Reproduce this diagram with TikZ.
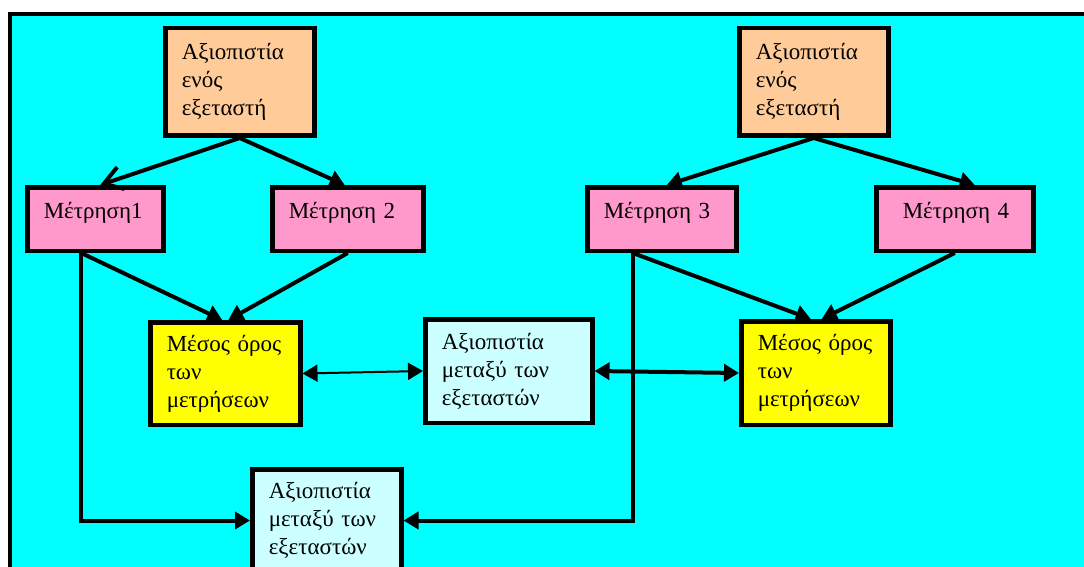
\documentclass[tikz,border=0pt]{standalone}
\usepackage{fontspec}
\setmainfont{Liberation Serif}
\usepackage{tikz}
\usetikzlibrary{arrows.meta,calc,positioning}
\definecolor{fondo}{RGB}{0,255,255}
\definecolor{naranjaClaro}{RGB}{255,204,153}
\definecolor{rosa}{RGB}{255,153,204}
\definecolor{amarillo}{RGB}{255,255,0}
\definecolor{celeste}{RGB}{204,255,255}
\tikzstyle{box}   =[draw, line width=4.5pt, anchor=north west, align=left,
                    inner xsep=16.5pt, inner ysep=0pt,
                    font=\fontsize{23}{28}\selectfont]
\tikzstyle{meas}  =[box, fill=rosa, minimum height=63.5pt,
                    text height=20pt, text depth=22pt]
\tikzstyle{edge}  =[line width=4pt, -{Triangle[length=15pt,width=17pt]}]
\tikzstyle{twoway}=[edge, {Triangle[length=15pt,width=17pt]}-{Triangle[length=15pt,width=17pt]}]

\begin{document}
\begin{tikzpicture}[x=1pt,y=-1pt]
    \useasboundingbox (0,0) rectangle (1084,567);
    \clip (0,0) rectangle (1084,567);
    \draw[line width=4.5pt,fill=fondo] (10,14) rectangle (1120,620);

        % first examiner
        \draw (163,26) node (o1) [box,fill=naranjaClaro,text width=116pt,minimum height=107.5pt] {Αξιοπιστία\\ενός\\εξεταστή};
        \draw (25,185) node (m1) [meas,text width=103pt] {Μέτρηση1};
        \draw (270,185) node (m2) [meas,text width=118pt] {Μέτρηση~2};
        \draw (148,320) node (y1) [box,fill=amarillo,text width=117pt,minimum height=102.5pt] {Μέσος όρος\\των\\μετρήσεων};

        % second examiner
        \draw (737,26) node (o2) [box,fill=naranjaClaro,text width=116pt,minimum height=107.5pt] {Αξιοπιστία\\ενός\\εξεταστή};
        \draw (585,185) node (m3) [meas,text width=116pt] {Μέτρηση~3};
        \draw (874,185) node (m4) [meas,inner xsep=26.5pt,text width=104pt] {Μέτρηση~4};
        \draw (739,319) node (y2) [box,fill=amarillo,text width=116pt,minimum height=103.5pt] {Μέσος όρος\\των\\μετρήσεων};

        % between examiners
        \draw (423,317) node (mid) [box,fill=celeste,text width=134pt,minimum height=103.5pt] {Αξιοπιστία\\μεταξύ των\\εξεταστών};
        \draw (250,467) node (bot) [box,fill=celeste,text width=116pt,minimum height=102.5pt] {Αξιοπιστία\\μεταξύ των\\εξεταστών};

        % arrow ends
        \coordinate (m1t) at ([xshift=5pt]m1.north);
        \coordinate (m2t) at ([xshift=-3pt]m2.north);
        \coordinate (m3t) at ([xshift=5pt]m3.north);
        \coordinate (m4t) at ([xshift=20pt]m4.north);
        \coordinate (m1b) at ([xshift=-14pt]m1.south);
        \coordinate (m3b) at ([xshift=-29pt]m3.south);
        \coordinate (y1l) at ([xshift=-3pt]y1.north);
        \coordinate (y1r) at ([xshift=3pt]y1.north);
        \coordinate (y2l) at ([xshift=-5pt]y2.north);
        \coordinate (y2r) at ([xshift=6pt]y2.north);

        \draw [line width=4pt,-{Straight Barb[length=18pt,width=23pt]}] (o1.south) to (m1t);
        \foreach \i/\j in {o1.south/m2t,o2.south/m3t,o2.south/m4t,m1b/y1l,m2.south/y1r,m3b/y2l,m4.south/y2r}
            \draw [edge] (\i) to (\j);

        \draw [edge] (m1b) |- (bot.west);
        \draw [edge] (m3b) |- (bot.east);
        \draw [twoway,line width=2pt] (y1.east) to (mid.west);
        \draw [twoway] (mid.east) to (y2.west);

    \end{tikzpicture}
\end{document}
